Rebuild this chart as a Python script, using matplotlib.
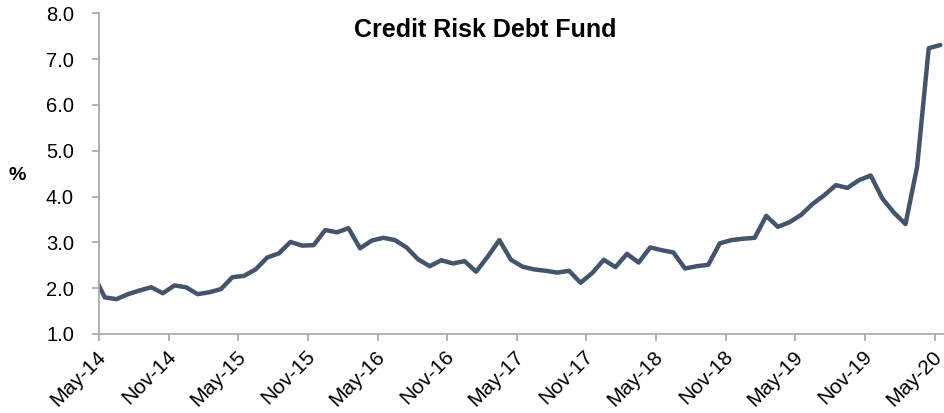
import numpy as np
import pandas as pd
import matplotlib
matplotlib.use("Agg")
import matplotlib.pyplot as plt
from matplotlib.transforms import ScaledTranslation

plt.rcParams["font.family"] = ["Liberation Sans", "DejaVu Sans"]

# Monthly yield spread (%), Apr-14 .. May-20
months = pd.period_range("2014-04", "2020-05", freq="M")
spread = [
    2.30,
    1.80, 1.76, 1.87, 1.95, 2.02, 1.89, 2.06, 2.02, 1.87, 1.91, 1.98, 2.24,
    2.27, 2.41, 2.67, 2.76, 3.01, 2.93, 2.94, 3.27, 3.22, 3.31, 2.87, 3.04,
    3.10, 3.05, 2.89, 2.63, 2.48, 2.61, 2.54, 2.59, 2.36, 2.69, 3.05, 2.62,
    2.47, 2.41, 2.38, 2.34, 2.38, 2.12, 2.33, 2.62, 2.46, 2.75, 2.56, 2.89,
    2.83, 2.78, 2.43, 2.48, 2.51, 2.98, 3.05, 3.08, 3.10, 3.58, 3.34, 3.44,
    3.60, 3.84, 4.03, 4.25, 4.19, 4.36, 4.46, 3.96, 3.65, 3.40, 4.65, 7.24,
    7.31,
]

tick_labels = ["May-14", "Nov-14", "May-15", "Nov-15", "May-16", "Nov-16",
               "May-17", "Nov-17", "May-18", "Nov-18", "May-19", "Nov-19",
               "May-20"]
y_ticks = [1, 2, 3, 4, 5, 6, 7, 8]

# x in months from May-14, points sit mid-month
start = pd.Period("2014-05", freq="M")
x = np.array([(m - start).n for m in months]) + 0.5
tick_pos = np.arange(len(tick_labels)) * 6

line_color = "#44546A"
axis_color = "#A6A6A6"

fig = plt.figure(figsize=(9.45, 4.13), dpi=100)
ax = fig.add_axes([0.10476, 0.1913, 0.8952, 0.7763])

ax.plot(x, spread, color=line_color, lw=3.2, solid_joinstyle="round",
        solid_capstyle="round")

ax.set_xlim(0, 72.9)
ax.set_ylim(1, 8)

for side in ("top", "right"):
    ax.spines[side].set_visible(False)
for side in ("left", "bottom"):
    ax.spines[side].set_color(axis_color)
    ax.spines[side].set_linewidth(1.2)

ax.set_yticks(y_ticks, [f"{v:.1f}" for v in y_ticks])
ax.tick_params(axis="y", direction="out", length=5, width=1.2,
               color=axis_color, labelsize=14.5, pad=13, labelcolor="black")

ax.set_xticks(tick_pos, tick_labels)
ax.tick_params(axis="x", direction="out", length=4.7, width=1.2,
               color=axis_color, labelsize=15, pad=9.5, labelcolor="black")
shift = ScaledTranslation(3.0 / 72, 0, fig.dpi_scale_trans)
for lbl in ax.get_xticklabels():
    lbl.set_rotation(45)
    lbl.set_ha("right")
    lbl.set_va("center")
    lbl.set_rotation_mode("anchor")
    lbl.set_transform(lbl.get_transform() + shift)

fig.text(0.5138, 0.911, "Credit Risk Debt Fund", ha="center", va="baseline",
         fontsize=18, fontweight="bold")
fig.text(0.018, 0.575, "%", ha="center", va="center", fontsize=14,
         fontweight="bold")

fig.savefig("out.png", dpi=100)
